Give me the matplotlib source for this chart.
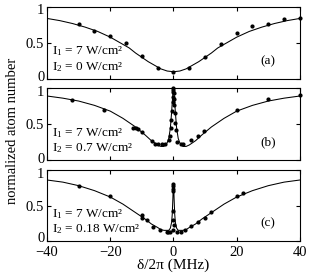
import matplotlib
matplotlib.use("Agg")
import matplotlib.pyplot as plt
import matplotlib.transforms as mtransforms

plt.rcParams['font.family'] = ['Liberation Serif', 'DejaVu Serif']
plt.rcParams['mathtext.fontset'] = 'custom'
plt.rcParams['mathtext.rm'] = 'Liberation Serif'
plt.rcParams['mathtext.it'] = 'Liberation Serif:italic'

# panel (a): I2 = 0
xa_pts = [-30, -25, -20, -15, -10, -5, 0, 5, 10, 15, 20, 25, 30, 35, 40]
ya_pts = [0.76, 0.67, 0.60, 0.50, 0.32, 0.15, 0.09, 0.15, 0.30, 0.48, 0.64, 0.73, 0.76, 0.83, 0.85]
xa_fit = [-40, -36, -32, -28, -24, -20, -16, -14, -12, -10, -8, -6, -4, -2, 0,
          2, 4, 6, 8, 10, 12, 14, 16, 20, 24, 28, 32, 36, 40]
ya_fit = [0.84, 0.81, 0.77, 0.72, 0.66, 0.58, 0.48, 0.43, 0.36, 0.30, 0.24, 0.19, 0.14, 0.11, 0.10,
          0.11, 0.14, 0.19, 0.24, 0.30, 0.36, 0.43, 0.48, 0.58, 0.66, 0.72, 0.77, 0.81, 0.84]

# panel (b): I2 = 0.7
xb_pts = [-32, -22, -12.8, -12, -11.2, -10.1, -6.9, -5.8, -4.8, -3.7, -2.7, -1.5, -1.2, -0.9,
          -0.7, -0.5, -0.3, -0.2, -0.1, 0, 0, 0.1, 0.2, 0.3, 0.4, 0.6, 0.8, 1.2, 2.3, 3.1,
          5.7, 7.8, 9.7, 20, 30, 40]
yb_pts = [0.83, 0.69, 0.44, 0.44, 0.43, 0.39, 0.27, 0.22, 0.22, 0.22, 0.23, 0.28, 0.33, 0.45,
          0.55, 0.68, 0.80, 0.88, 0.95, 1.0, 0.97, 0.93, 0.85, 0.76, 0.66, 0.52, 0.42, 0.25, 0.23, 0.22,
          0.28, 0.33, 0.41, 0.69, 0.85, 0.90]
xb_fit = [-40, -35, -30, -25, -20, -16, -12, -9, -7, -5, -4, -3, -2, -1.5, -1, -0.6, -0.3, -0.15, 0,
          0.15, 0.3, 0.6, 1, 1.5, 2, 3, 4, 5, 7, 9, 12, 16, 20, 25, 30, 35, 40]
yb_fit = [0.89, 0.86, 0.82, 0.76, 0.68, 0.58, 0.46, 0.35, 0.27, 0.21, 0.19, 0.19, 0.24, 0.30, 0.44, 0.66, 0.86, 0.94, 0.97,
          0.94, 0.86, 0.66, 0.44, 0.30, 0.24, 0.19, 0.19, 0.21, 0.27, 0.35, 0.46, 0.58, 0.68, 0.76, 0.82, 0.86, 0.89]

# panel (c): I2 = 0.18
xc_pts = [-30, -20, -10.1, -10.1, -8.5, -6.4, -4.3, -2.2, -1.6, -1.1, -0.2, 0, 0, 0, 0, 0, 0, 0.1,
          1.2, 2.3, 3.6, 5.7, 7.8, 10, 11.9, 20, 22]
yc_pts = [0.78, 0.63, 0.37, 0.33, 0.30, 0.20, 0.155, 0.13, 0.13, 0.13, 0.16, 0.81, 0.78, 0.74, 0.70, 0.42, 0.30, 0.22,
          0.13, 0.13, 0.155, 0.21, 0.27, 0.33, 0.41, 0.64, 0.68]
xc_fit = [-40, -35, -30, -25, -20, -16, -12, -9, -7, -5, -4, -3, -2, -1.5, -1, -0.6, -0.4, -0.2, -0.1, 0,
          0.1, 0.2, 0.4, 0.6, 1, 1.5, 2, 3, 4, 5, 7, 9, 12, 16, 20, 25, 30, 35, 40]
yc_fit = [0.86, 0.83, 0.78, 0.71, 0.62, 0.52, 0.40, 0.31, 0.24, 0.19, 0.16, 0.15, 0.15, 0.15, 0.18, 0.26, 0.37, 0.59, 0.73, 0.80,
          0.73, 0.59, 0.37, 0.26, 0.18, 0.15, 0.15, 0.15, 0.16, 0.19, 0.24, 0.31, 0.40, 0.52, 0.62, 0.71, 0.78, 0.83, 0.86]

panels = [
    (xa_pts, ya_pts, xa_fit, ya_fit, r"I$_2$ = 0 W/cm²", "(a)"),
    (xb_pts, yb_pts, xb_fit, yb_fit, r"I$_2$ = 0.7 W/cm²", "(b)"),
    (xc_pts, yc_pts, xc_fit, yc_fit, r"I$_2$ = 0.18 W/cm²", "(c)"),
]
xticks = [-40, -20, 0, 20, 40]

fig = plt.figure(figsize=(3.14, 2.77), dpi=100)
boxes = [(0.715, 0.260), (0.422, 0.260), (0.130, 0.256)]

for i, (xp, yp, xf, yf, lab2, tag) in enumerate(panels):
    ax = fig.add_axes([0.150, boxes[i][0], 0.805, boxes[i][1]])
    ax.plot(xf, yf, color='black', lw=0.75)
    ax.plot(xp, yp, 'o', color='black', ms=2.0, clip_on=False)
    ax.set_xlim(-40, 40)
    ax.set_ylim(0, 1)
    ax.set_yticks([0, 0.5, 1])
    ax.set_yticklabels(["0", "0.5", "1"])
    ax.set_xticks(xticks)
    ax.tick_params(direction='in', top=True, right=True, length=3, labelsize=10.5, pad=2)
    ax.tick_params(axis='x', pad=3.5)
    # nudge the 0 and 1 labels a little inward so neighbouring panels don't collide
    up = 4.0 if i == 2 else 2.5
    labs = ax.get_yticklabels()
    labs[0].set_transform(labs[0].get_transform() + mtransforms.ScaledTranslation(0, up / 100, fig.dpi_scale_trans))
    labs[2].set_transform(labs[2].get_transform() + mtransforms.ScaledTranslation(0, -2.5 / 100, fig.dpi_scale_trans))
    if i < 2:
        ax.set_xticklabels([])
    ax.text(-38.5, 0.38, r"I$_1$ = 7 W/cm²", fontsize=9.5, va='center')
    ax.text(-38.5, 0.17, lab2, fontsize=9.5, va='center')
    ax.text(30, 0.25, tag, fontsize=9.5, ha='center', va='center')
    if i == 2:
        ax.set_xlabel("δ/2π (MHz)", fontsize=11, labelpad=0)

fig.text(0.041, 0.527, "normalized atom number", rotation=90, va='center', ha='center', fontsize=10.5)

fig.savefig("out.png", dpi=100)
